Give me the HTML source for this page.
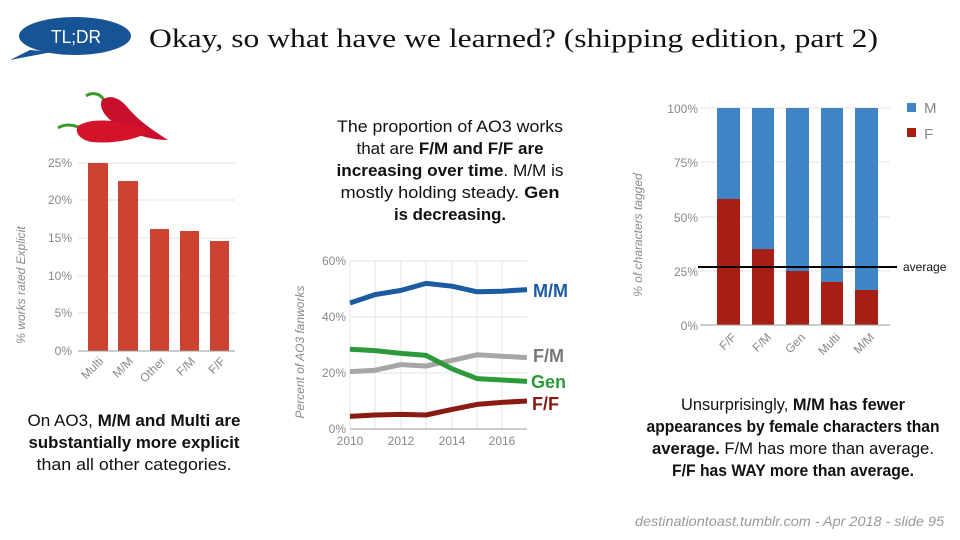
<!DOCTYPE html>
<html><head><meta charset="utf-8"><style>
html,body{margin:0;padding:0;background:#fff;}
svg{display:block;}
text{font-family:"Liberation Sans",sans-serif;}
.p{font-size:17px;fill:#111;}
.b{font-weight:bold;}
.ax{font-size:12px;fill:#888;}
</style></head><body>
<svg width="960" height="540" viewBox="0 0 960 540" xmlns="http://www.w3.org/2000/svg">
<!-- bubble -->
<ellipse cx="75" cy="36" rx="56" ry="19" fill="#175495"/>
<path d="M30 50 L10 60 L52 52 Z" fill="#175495"/>
<text x="76" y="43" font-size="18" fill="#fff" text-anchor="middle" textLength="50" lengthAdjust="spacingAndGlyphs">TL;DR</text>
<text x="149" y="47" font-size="26" fill="#111" textLength="729" lengthAdjust="spacingAndGlyphs" style="font-family:'Liberation Serif',serif">Okay, so what have we learned? (shipping edition, part 2)</text>

<!-- peppers -->
<path d="M86 96 C92 92,100 93,104 100" stroke="#3a9a2a" stroke-width="3" fill="none"/>
<path d="M102 100 C110 94,120 98,128 108 C138 120,152 130,168 140 C150 140,132 134,118 126 C106 118,98 108,102 100Z" fill="#c8102e"/>
<path d="M58 128 C64 124,72 124,80 128" stroke="#3a9a2a" stroke-width="3" fill="none"/>
<path d="M78 126 C90 118,112 120,130 124 C140 126,146 130,148 132 C136 140,112 144,92 142 C80 140,74 132,78 126Z" fill="#d4122a"/>

<!-- left chart -->
<g stroke="#e3e3e3" stroke-width="1">
<line x1="78" y1="163" x2="235" y2="163"/><line x1="78" y1="200" x2="235" y2="200"/>
<line x1="78" y1="238" x2="235" y2="238"/><line x1="78" y1="276" x2="235" y2="276"/>
<line x1="78" y1="313" x2="235" y2="313"/></g>
<g fill="#cc4331">
<rect x="88" y="163" width="20" height="188"/><rect x="118" y="181" width="20" height="170"/>
<rect x="150" y="229" width="19" height="122"/><rect x="180" y="231" width="19" height="120"/>
<rect x="210" y="241" width="19" height="110"/></g>
<line x1="78" y1="351" x2="235" y2="351" stroke="#999" stroke-width="1"/>
<g class="ax" text-anchor="end">
<text x="72" y="167">25%</text><text x="72" y="204">20%</text><text x="72" y="242">15%</text>
<text x="72" y="280">10%</text><text x="72" y="317">5%</text><text x="72" y="355">0%</text></g>
<text class="ax" font-size="11" font-style="italic" transform="translate(25,285) rotate(-90)" text-anchor="middle">% works rated Explicit</text>
<g class="ax" font-size="13" text-anchor="end">
<text transform="translate(104,362) rotate(-45)">Multi</text>
<text transform="translate(134,362) rotate(-45)">M/M</text>
<text transform="translate(166,362) rotate(-45)">Other</text>
<text transform="translate(196,362) rotate(-45)">F/M</text>
<text transform="translate(226,362) rotate(-45)">F/F</text></g>

<text class="p" x="134" y="426" text-anchor="middle" textLength="213" lengthAdjust="spacingAndGlyphs">On AO3, <tspan class="b">M/M and Multi are</tspan></text>
<text class="p b" x="134" y="448" text-anchor="middle" textLength="211" lengthAdjust="spacingAndGlyphs">substantially more explicit</text>
<text class="p" x="134" y="470" text-anchor="middle" textLength="195" lengthAdjust="spacingAndGlyphs">than all other categories.</text>

<!-- middle text -->
<text class="p" x="450" y="132" text-anchor="middle" textLength="226" lengthAdjust="spacingAndGlyphs">The proportion of AO3 works</text>
<text class="p" x="450" y="154" text-anchor="middle">that are <tspan class="b">F/M and F/F are</tspan></text>
<text class="p" x="450" y="176" text-anchor="middle" textLength="227" lengthAdjust="spacingAndGlyphs"><tspan class="b">increasing over time</tspan>. M/M is</text>
<text class="p" x="450" y="198" text-anchor="middle" textLength="219" lengthAdjust="spacingAndGlyphs">mostly holding steady.  <tspan class="b">Gen</tspan></text>
<text class="p b" x="450" y="220" text-anchor="middle" textLength="112" lengthAdjust="spacingAndGlyphs">is decreasing.</text>

<!-- middle chart -->
<g stroke="#e6e6e6" stroke-width="1">
<line x1="350" y1="261" x2="527" y2="261"/><line x1="350" y1="317" x2="527" y2="317"/><line x1="350" y1="373" x2="527" y2="373"/>
<line x1="350" y1="261" x2="350" y2="429"/><line x1="375" y1="261" x2="375" y2="429"/><line x1="401" y1="261" x2="401" y2="429"/>
<line x1="426" y1="261" x2="426" y2="429"/><line x1="452" y1="261" x2="452" y2="429"/><line x1="477" y1="261" x2="477" y2="429"/>
<line x1="502" y1="261" x2="502" y2="429"/></g>
<line x1="350" y1="429" x2="527" y2="429" stroke="#999"/>
<g fill="none" stroke-width="5" stroke-linejoin="round">
<polyline stroke="#1b5ba2" points="350,303 375,294.6 401,290.4 426,283.4 452,286.2 477,291.8 502,291.2 527,289.6"/>
<polyline stroke="#a6a6a6" points="350,371.6 375,370.2 401,364.6 426,366 452,360.4 477,354.8 502,356.2 527,357.6"/>
<polyline stroke="#2b9a3a" points="350,349.2 375,350.6 401,353.4 426,355.4 452,368.8 477,378.6 502,380 527,381.4"/>
<polyline stroke="#8a1a12" points="350,416.4 375,415 401,414.4 426,415 452,409.4 477,404.4 502,402.4 527,401"/></g>
<g class="ax" font-size="11" text-anchor="end">
<text x="346" y="265">60%</text><text x="346" y="321">40%</text><text x="346" y="377">20%</text><text x="346" y="433">0%</text></g>
<g class="ax" font-size="11" text-anchor="middle">
<text x="350" y="445">2010</text><text x="401" y="445">2012</text><text x="452" y="445">2014</text><text x="502" y="445">2016</text></g>
<text class="ax" font-size="10" font-style="italic" transform="translate(304,352) rotate(-90)" text-anchor="middle">Percent of AO3 fanworks</text>
<g font-size="18" font-weight="bold">
<text x="533" y="297" fill="#1b5ba2">M/M</text><text x="533" y="362" fill="#777">F/M</text>
<text x="531" y="388" fill="#2b9a3a">Gen</text><text x="532" y="410" fill="#8a1a12">F/F</text></g>

<!-- right chart -->
<g stroke="#e3e3e3"><line x1="700" y1="108" x2="890" y2="108"/><line x1="700" y1="162" x2="890" y2="162"/>
<line x1="700" y1="217" x2="890" y2="217"/><line x1="700" y1="271" x2="890" y2="271"/></g>
<g fill="#3f85c6">
<rect x="717" y="108" width="23" height="217"/><rect x="752" y="108" width="22" height="217"/>
<rect x="786" y="108" width="23" height="217"/><rect x="821" y="108" width="22" height="217"/><rect x="855" y="108" width="23" height="217"/></g>
<g fill="#a61f12">
<rect x="717" y="199" width="23" height="126"/><rect x="752" y="249" width="22" height="76"/>
<rect x="786" y="271" width="23" height="54"/><rect x="821" y="282" width="22" height="43"/><rect x="855" y="290" width="23" height="35"/></g>
<line x1="700" y1="325" x2="890" y2="325" stroke="#999"/>
<line x1="698" y1="267" x2="897" y2="267" stroke="#000" stroke-width="2"/>
<text x="903" y="271" font-size="12" fill="#111">average</text>
<g class="ax" font-size="13" text-anchor="end">
<text x="698" y="113">100%</text><text x="698" y="167">75%</text><text x="698" y="222">50%</text><text x="698" y="276">25%</text><text x="698" y="330">0%</text></g>
<text class="ax" font-size="12" font-style="italic" transform="translate(642,235) rotate(-90)" text-anchor="middle">% of characters tagged</text>
<g class="ax" font-size="14" text-anchor="end">
<text transform="translate(737,338) rotate(-45)">F/F</text>
<text transform="translate(772,338) rotate(-45)">F/M</text>
<text transform="translate(806,338) rotate(-45)">Gen</text>
<text transform="translate(841,338) rotate(-45)">Multi</text>
<text transform="translate(875,338) rotate(-45)">M/M</text></g>
<rect x="907" y="103" width="9" height="9" fill="#3f85c6"/><text x="924" y="113" font-size="15" fill="#888">M</text>
<rect x="907" y="128" width="9" height="9" fill="#a61f12"/><text x="924" y="139" font-size="15" fill="#888">F</text>

<text class="p" x="793" y="410" text-anchor="middle" textLength="224" lengthAdjust="spacingAndGlyphs">Unsurprisingly, <tspan class="b">M/M has fewer</tspan></text>
<text class="p b" x="793" y="432" text-anchor="middle" textLength="293" lengthAdjust="spacingAndGlyphs">appearances by female characters than</text>
<text class="p" x="793" y="454" text-anchor="middle" textLength="282" lengthAdjust="spacingAndGlyphs"><tspan class="b">average.</tspan>  F/M has more than average.</text>
<text class="p b" x="793" y="476" text-anchor="middle" textLength="242" lengthAdjust="spacingAndGlyphs">F/F has WAY more than average.</text>

<text x="635" y="526" font-size="14" font-style="italic" fill="#999" textLength="309" lengthAdjust="spacingAndGlyphs">destinationtoast.tumblr.com - Apr 2018 - slide  95</text>
</svg>
</body></html>
